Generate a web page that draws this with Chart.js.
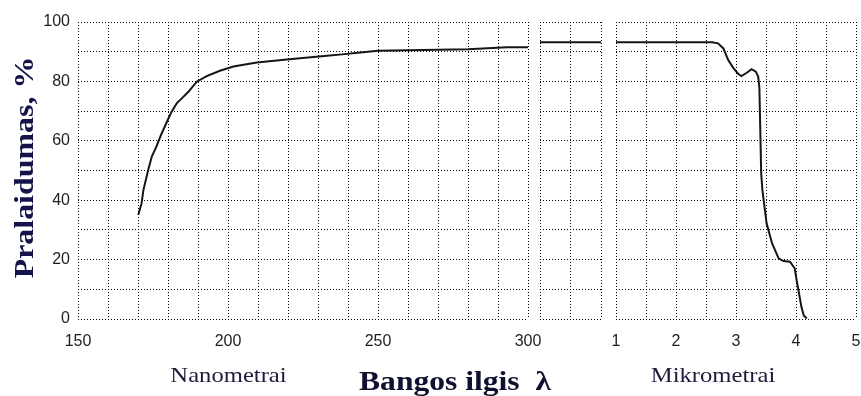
<!DOCTYPE html>
<html>
<head>
<meta charset="utf-8">
<script src="https://cdn.jsdelivr.net/npm/chart.js@4.4.1/dist/chart.umd.min.js"></script>
<style>
  html, body { margin: 0; padding: 0; background: #fff; overflow: hidden; }
  #wrap { position: relative; width: 861px; height: 396px; }
  #wrap canvas { position: absolute; left: 0; top: 0; }
</style>
</head>
<body>
<div id="wrap">
  <canvas id="nmChart" width="861" height="396"></canvas>
  <canvas id="bridgeChart" width="861" height="396"></canvas>
  <canvas id="umChart" width="861" height="396"></canvas>
</div>
<script>
// Ultraviolet part of the transmission curve, wavelength in nanometres
const nmWavelength = [170.1, 171.2, 171.8, 173.4, 174.6, 176.2, 177.6, 179.2, 181.2, 182.9, 185.1, 186.8,
  189.6, 192.9, 197.3, 201.8, 209.6, 219.6, 224, 233, 238, 245, 250, 280, 293, 300];
const nmTransmission = [35, 39, 43.4, 50.2, 54.7, 58.2, 61.8, 65.4, 69.8, 72.6, 74.8, 76.5,
  79.9, 81.8, 83.6, 85, 86.4, 87.4, 87.8, 88.6, 89.1, 89.8, 90.3, 90.8, 91.5, 91.5];

// Visible bridge between the two ranges (nm)
const bridgeWavelength = [300, 1000];
const bridgeTransmission = [93.2, 93.2];

// Infrared part, wavelength in micrometres
const umWavelength = [1, 2.6, 2.7, 2.79, 2.87, 2.96, 3.04, 3.09, 3.18, 3.26, 3.33, 3.37, 3.39, 3.42,
  3.44, 3.51, 3.6, 3.71, 3.79, 3.9, 3.98, 4.01, 4.04, 4.09, 4.13, 4.18];
const umTransmission = [93.2, 93.2, 92.8, 91.1, 87.2, 84.4, 82.5, 81.8, 82.9, 84.1, 83.3, 81.6, 77.7, 49,
  43.4, 32.2, 25.5, 20.4, 19.5, 19.3, 17, 13.1, 9.8, 4.1, 1.2, 0.2];

// Labelled ticks (grid lines fall on every step in between)
const nmTickLabels = [150, 200, 250, 300];
const umTickLabels = [1, 2, 3, 4, 5];
const yTickLabels = [0, 20, 40, 60, 80, 100];

const yTitle = 'Pralaidumas, %';
const xTitle = 'Bangos ilgis  λ';
const nmTitle = 'Nanometrai';
const umTitle = 'Mikrometrai';

Chart.defaults.font.family = '"Liberation Sans", Arial, sans-serif';
Chart.defaults.font.size = 16;
Chart.defaults.color = '#1e1e1e';

const PLOT_TOP = 22;
const X_AXIS_HEIGHT = 77;

function toPoints(xs, ys) {
  return xs.map((x, i) => ({ x: x, y: ys[i] }));
}

// Dotted black grid; the outer grid lines form the panel frame
function gridStyle() {
  return {
    grid: { color: '#000', lineWidth: 1, drawTicks: false },
    border: { display: false, dash: [1, 2] }
  };
}

function xScale(min, max, step, labels, showLabels) {
  return Object.assign({
    type: 'linear',
    min: min, max: max,
    afterFit(scale) {
      scale.height = X_AXIS_HEIGHT;
      scale.paddingLeft = 0;
      scale.paddingRight = 0;
    },
    ticks: {
      display: showLabels,
      stepSize: step,
      autoSkip: false,
      maxRotation: 0, minRotation: 0,
      padding: 13,
      callback: (v) => labels.includes(v) ? String(v) : ''
    }
  }, gridStyle());
}

function yScale(width, showLabels) {
  return Object.assign({
    type: 'linear',
    min: 0, max: 100,
    afterFit(scale) { scale.width = width; },
    ticks: {
      display: showLabels,
      stepSize: 10,
      padding: 8,
      callback: (v) => yTickLabels.includes(v) ? String(v) : ''
    }
  }, gridStyle());
}

function lineDataset(xs, ys) {
  return {
    data: toPoints(xs, ys),
    borderColor: '#151515',
    borderWidth: 2,
    pointRadius: 0,
    tension: 0,
    fill: false
  };
}

// Axis captions drawn in serif type, slightly widened
const captionPlugin = {
  id: 'captions',
  afterDraw(chart) {
    const ctx = chart.ctx;
    const put = (text, x, y, font, color, angle, stretch) => {
      ctx.save();
      ctx.translate(x, y);
      ctx.rotate(angle);
      ctx.scale(stretch, 1);
      ctx.font = font;
      ctx.fillStyle = color;
      ctx.textAlign = 'center';
      ctx.textBaseline = 'alphabetic';
      ctx.fillText(text, 0, 0);
      ctx.restore();
    };
    put(yTitle, 33, 167.5, 'bold 28px "Liberation Serif", serif', '#14144a', -Math.PI / 2, 1.14);
    put(xTitle, 455, 390, 'bold 27px "Liberation Serif", serif', '#101030', 0, 1.17);
    put(nmTitle, 228.5, 382, '22px "Liberation Serif", serif', '#1c1c3c', 0, 1.12);
    put(umTitle, 713, 382, '22px "Liberation Serif", serif', '#1c1c3c', 0, 1.12);
  }
};

function makeChart(id, dataset, padLeft, padRight, x, y, plugins) {
  return new Chart(document.getElementById(id), {
    type: 'line',
    data: { datasets: [dataset] },
    options: {
      responsive: false,
      animation: false,
      devicePixelRatio: 1,
      layout: { padding: { left: padLeft, right: padRight, top: PLOT_TOP, bottom: 0 } },
      plugins: { legend: { display: false }, tooltip: { enabled: false } },
      scales: { x: x, y: y }
    },
    plugins: plugins || []
  });
}

// Left panel: 150–300 nm
makeChart('nmChart', lineDataset(nmWavelength, nmTransmission), 0, 333,
  xScale(150, 300, 10, nmTickLabels, true), yScale(78, true), [captionPlugin]);

// Narrow middle panel
makeChart('bridgeChart', lineDataset(bridgeWavelength, bridgeTransmission), 540, 260,
  xScale(300, 1000, 350, [], false), yScale(0, false));

// Right panel: 1–5 µm
makeChart('umChart', lineDataset(umWavelength, umTransmission), 616, 5,
  xScale(1, 5, 0.5, umTickLabels, true), yScale(0, false));
</script>
</body>
</html>
